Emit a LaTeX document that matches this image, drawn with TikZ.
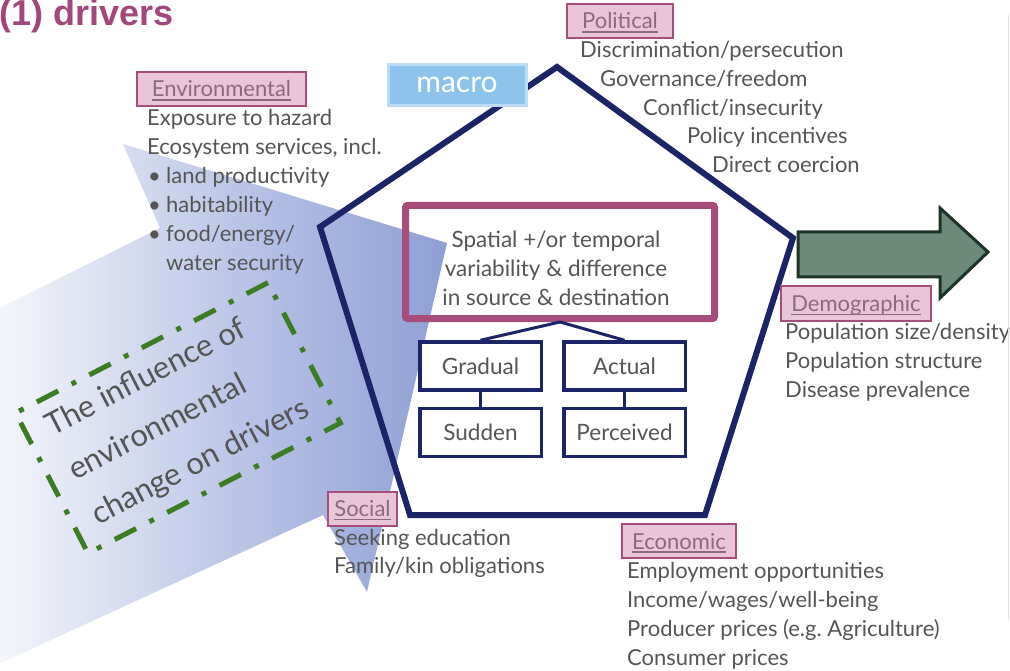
\documentclass[tikz,border=0pt]{standalone}
\usepackage{fontspec}
\setmainfont{Lato}
\newfontfamily\titlefont{Liberation Sans}
\usetikzlibrary{calc}
\definecolor{navy}{HTML}{1C2468}
\definecolor{mag}{HTML}{A64D7B}
\definecolor{pinkfill}{HTML}{E8C6D7}
\definecolor{labeltext}{HTML}{8C6A80}
\definecolor{bodytext}{HTML}{555555}
\definecolor{arrowblue}{HTML}{6A82C6}
\definecolor{arrowmid}{HTML}{AEBBE2}
\definecolor{macroblue}{HTML}{8EC4EC}
\definecolor{ggreen}{HTML}{3B7D23}
\definecolor{arrowgreen}{HTML}{6B8A79}
\definecolor{arrowedge}{HTML}{1E3327}
\definecolor{titlecol}{HTML}{A3467A}
\pgfdeclarehorizontalshading{arrowsh}{100bp}{color(0bp)=(white); color(34bp)=(white); color(55bp)=(arrowmid); color(75bp)=(arrowblue); color(100bp)=(arrowblue)}
\newcommand\ulabel[1]{\setbox0=\hbox{#1}\leavevmode\rlap{\vrule height -2.2pt depth 3.6pt width \wd0}\box0}
\frenchspacing
\begin{document}
\begin{tikzpicture}[x=1pt,y=-1pt,
  body/.style={font=\fontsize{22}{29}\selectfont, text=bodytext, inner sep=0, anchor=base west},
  lab/.style={draw=mag, fill=pinkfill, line width=2pt, font=\fontsize{22}{29}\selectfont, text=labeltext,
    inner xsep=3pt, inner ysep=0pt, text height=17pt, text depth=1pt, minimum height=34pt},
  sbox/.style={draw=navy, line width=3.5pt, fill=white, minimum width=121.5pt, minimum height=48pt,
    inner sep=0, text=bodytext, font=\fontsize{22.5}{29}\selectfont},
  link/.style={navy, line width=3pt}
]
\useasboundingbox (0,0) rectangle (1010,671);
\fill[white] (0,0) rectangle (1010,671);

% large shaded arrow
\begin{scope}
  \clip (-10,313) -- (160,228) -- (123,144) -- (447,243) -- (367,592) -- (323,515) -- (-10,668) -- cycle;
  \begin{scope}[shift={(236,400)}, rotate=12.5]
    \shade[shading=arrowsh] (-305,-600) rectangle (252,600);
  \end{scope}
\end{scope}

% pentagon
\coordinate (pT) at (557,67);
\coordinate (pR) at (793,238);
\coordinate (pBR) at (705,515);
\coordinate (pBL) at (410,515);
\coordinate (pL) at (320,227);
\draw[navy, line width=6pt, line join=miter] (pT) -- (pR) -- (pBR) -- (pBL) -- (pL) -- cycle;

% macro box
\node[fill=macroblue, draw=macroblue!60, line width=3pt, minimum width=138pt, minimum height=41pt, text=white,
  font=\fontsize{30}{30}\selectfont, inner sep=0] (macro) at (457,85) {macro};

% central magenta box
\node[draw=mag, line width=7pt, minimum width=309pt, minimum height=113pt, rounded corners=2pt, inner sep=0] (mbox) at (560,262) {};
\node[align=center, font=\fontsize{22.5}{29}\selectfont, text=bodytext, inner sep=0] (mtext) at (556,268)
  {Spatial +/or temporal\\variability \& difference\\in source \& destination};

% small boxes
\node[sbox] (grad) at (480.5,366) {Gradual};
\node[sbox] (act) at (624.5,366) {Actual};
\node[sbox] (sud) at (480.5,432.5) {Sudden};
\node[sbox] (perc) at (624.5,432.5) {Perceived};
\draw[link] (mbox.south) -- (grad.north);
\draw[link] (mbox.south) -- (act.north);
\draw[link] (grad) -- (sud);
\draw[link] (act) -- (perc);

% green dashed box
\node[draw=ggreen, line width=5pt, dash pattern=on 24pt off 15pt on 5pt off 15pt, rotate=27.3,
  minimum width=284pt, minimum height=158pt, align=left, font=\fontsize{31}{50}\selectfont, text=bodytext, inner sep=0]
  (infl) at (178,418) {The influence of\\environmental\\change on drivers};

% green arrow
\draw[draw=arrowedge, fill=arrowgreen, line width=3pt, line join=miter]
  (798,232) -- (940,232) -- (940,208) -- (988,252) -- (940,298) -- (940,277) -- (798,277) -- cycle;

% labels
\node[lab, minimum width=169pt] (env) at (221.5,89) {\ulabel{Environmental}};
\node[lab, minimum width=106pt] (pol) at (620,21) {\ulabel{Political}};
\node[lab, minimum width=150pt] (dem) at (856,303.5) {\ulabel{Demographic}};
\node[lab, minimum width=69pt] (soc) at (362.5,508.5) {\ulabel{Social}};
\node[lab, minimum width=114pt] (eco) at (679,541) {\ulabel{Economic}};

% environmental list
\node[body] (e1) at (147,126) {Exposure to hazard};
\node[body] (e2) at (147,155) {Ecosystem services, incl.};
\node[body] (eb1) at (148,184) {•};
\node[body] (eb2) at (148,213) {•};
\node[body] (eb3) at (148,242) {•};
\node[body] (e3) at (166,184) {land productivity};
\node[body] (e4) at (166,213) {habitability};
\node[body] (e5) at (166,242) {food/energy/};
\node[body] (e6) at (166,271) {water security};

% political list
\node[body] (p1) at (580,58) {Discrimination/persecution};
\node[body] (p2) at (600,87) {Governance/freedom};
\node[body] (p3) at (643,116) {Conflict/insecurity};
\node[body] (p4) at (687,144) {Policy incentives};
\node[body] (p5) at (712,173) {Direct coercion};

% demographic list
\node[body] (d1) at (785,339) {Population size/density};
\node[body] (d2) at (785,368) {Population structure};
\node[body] (d3) at (785,397) {Disease prevalence};

% social list
\node[body] (s1) at (334,545) {Seeking education};
\node[body] (s2) at (334,573) {Family/kin obligations};

% economic list
\node[body] (c1) at (627,578) {Employment opportunities};
\node[body] (c2) at (627,607) {Income/wages/well-being};
\node[body] (c3) at (627,636) {Producer prices (e.g. Agriculture)};
\node[body] (c4) at (627,665) {Consumer prices};

% title
\node[font=\titlefont\bfseries\fontsize{36}{36}\selectfont, text=titlecol, anchor=base west, inner sep=0] (title) at (-1,26) {(1) drivers};

% faint right border
\draw[gray!25, line width=1pt] (1008,15) -- (1008,620);
\end{tikzpicture}
\end{document}
